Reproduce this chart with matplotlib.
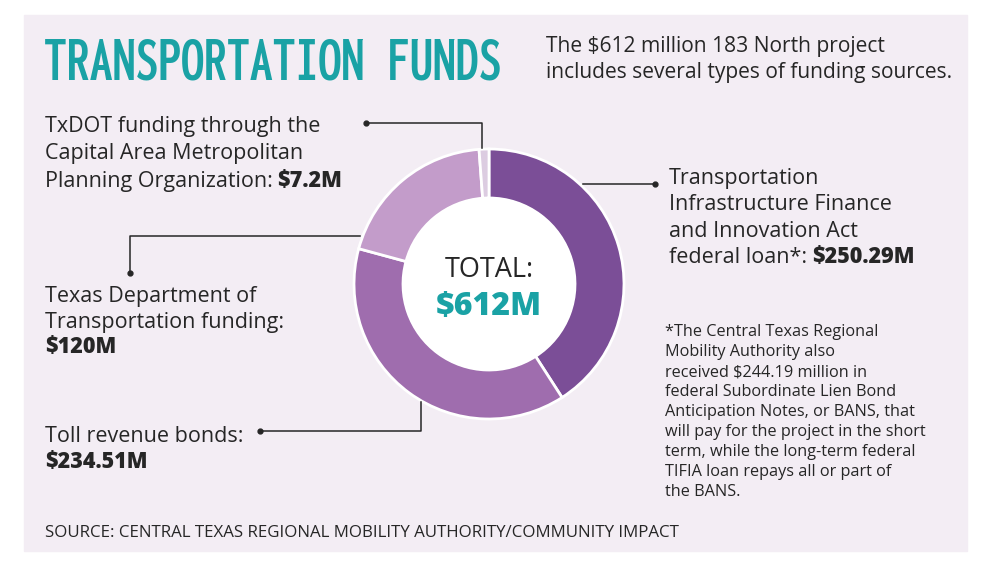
import os
import matplotlib
matplotlib.use("Agg")
import matplotlib.pyplot as plt
from matplotlib.patches import Rectangle, Circle
from matplotlib.textpath import TextPath
from matplotlib import font_manager as fm

# data
sources = ["Transportation Infrastructure Finance and Innovation Act federal loan",
           "Toll revenue bonds",
           "Texas Department of Transportation funding",
           "TxDOT funding through CAMPO"]
amounts = [250.29, 234.51, 120.0, 7.2]
amount_labels = ["$250.29M", "$234.51M", "$120M", "$7.2M"]
total_label = "$612M"
title = "TRANSPORTATION FUNDS"
footnote = ["*The Central Texas Regional",
            "Mobility Authority also",
            "received $244.19 million in",
            "federal Subordinate Lien Bond",
            "Anticipation Notes, or BANS, that",
            "will pay for the project in the short",
            "term, while the long-term federal",
            "TIFIA loan repays all or part of",
            "the BANS."]

colors = ["#7B4E97", "#9F6DAE", "#C39CCA", "#DCCCE1"]
teal = "#1AA2A5"
ink = "#262626"
bg = "#F3EDF4"

plt.rcParams['font.family'] = ['Open Sans', 'DejaVu Sans']


# pick the condensed face whose proportions match the title best (about 473 x 42 px)
def narrow(path, name):
    s = (os.path.basename(path) + " " + name).lower()
    return 'condensed' in s or 'narrow' in s


target_ratio = 473 / 42
title_font, title_size, best = None, 44, None
seen = set()
for f in fm.fontManager.ttflist:
    if f.fname in seen or not narrow(f.fname, f.name):
        continue
    seen.add(f.fname)
    w = f.weight if isinstance(f.weight, int) else 700
    if w < 600 or f.style != 'normal':
        continue
    try:
        ext = TextPath((0, 0), title, size=100, prop=fm.FontProperties(fname=f.fname)).get_extents()
    except Exception:
        continue
    err = abs(ext.width / ext.height - target_ratio) + abs(w - 700) / 1000
    if best is None or err < best:
        best = err
        title_font = f.fname
        title_size = 42 / (ext.height / 100) * 0.72

W, H = 1000, 572
fig = plt.figure(figsize=(10, 5.72), dpi=100)
ax = fig.add_axes([0, 0, 1, 1])
r = fig.canvas.get_renderer()

ax.add_patch(Rectangle((24, 15), 943, 536, color=bg, zorder=0))

cx, cy, R = 489, 284, 135
wedges, _ = ax.pie(amounts, colors=colors, radius=R, center=(cx, cy),
                   startangle=-90, counterclock=True,
                   wedgeprops=dict(width=49, edgecolor='white', linewidth=2))
ax.add_patch(Circle((cx, cy), 86, color='white', zorder=1))

ax.set_xlim(0, W)
ax.set_ylim(H, 0)
ax.set_aspect('auto')
ax.axis('off')


def leader(pts):
    xs = [p[0] for p in pts]
    ys = [p[1] for p in pts]
    ax.plot(xs, ys, color=ink, lw=1.1, zorder=3)
    ax.plot(xs[0], ys[0], 'o', color=ink, ms=3.5, zorder=3)


leader([(366, 123), (482, 123), (482, 148)])
leader([(655, 184), (583, 184)])
leader([(130, 273), (130, 236), (360, 236)])
leader([(260, 431), (421, 431), (421, 402)])


def line(x, y, parts, size=15.5, color=ink):
    for i, (txt, bold) in enumerate(parts):
        t = ax.text(x, y, txt, fontsize=size, color=color, va='baseline', ha='left',
                    fontweight='heavy' if bold else 'normal')
        bb = t.get_window_extent(r)
        x = bb.x1 + size * 0.3


# title
if title_font:
    ax.text(44, 79, title, color=teal, fontproperties=fm.FontProperties(fname=title_font),
            fontsize=title_size, va='baseline')
else:
    t = ax.text(44, 79, title, color=teal, fontsize=44, fontweight='bold', va='baseline')
    bb = t.get_window_extent(r)
    t.set_fontsize(44 * 472 / bb.width)

line(546, 52, [("The $612 million 183 North project", False)], 15.1)
line(546, 78, [("includes several types of funding sources.", False)], 15.1)

line(45, 132, [("TxDOT funding through the", False)])
line(45, 159.5, [("Capital Area Metropolitan", False)])
line(45, 187, [("Planning Organization:", False), (amount_labels[3], True)])

line(669, 184, [("Transportation", False)])
line(669, 210, [("Infrastructure Finance", False)])
line(669, 237, [("and Innovation Act", False)])
line(669, 263, [("federal loan*:", False), (amount_labels[0], True)])

line(45, 302, [("Texas Department of", False)])
line(45, 328, [("Transportation funding:", False)])
line(45, 353, [(amount_labels[2], True)])

line(45, 442, [("Toll revenue bonds:", False)])
line(45, 468, [(amount_labels[1], True)])

for k, s in enumerate(footnote):
    line(665, 336 + 20 * k, [(s, False)], 11.7)

line(45, 537, [("SOURCE: CENTRAL TEXAS REGIONAL MOBILITY AUTHORITY/COMMUNITY IMPACT", False)], 12.2)

ax.text(cx, 277, "TOTAL:", fontsize=19.5, color=ink, ha='center', va='baseline', zorder=4)
ax.text(cx, 315, total_label, fontsize=23, color=teal, fontweight='heavy',
        ha='center', va='baseline', zorder=4)

fig.savefig("out.png", dpi=100, facecolor='white')
